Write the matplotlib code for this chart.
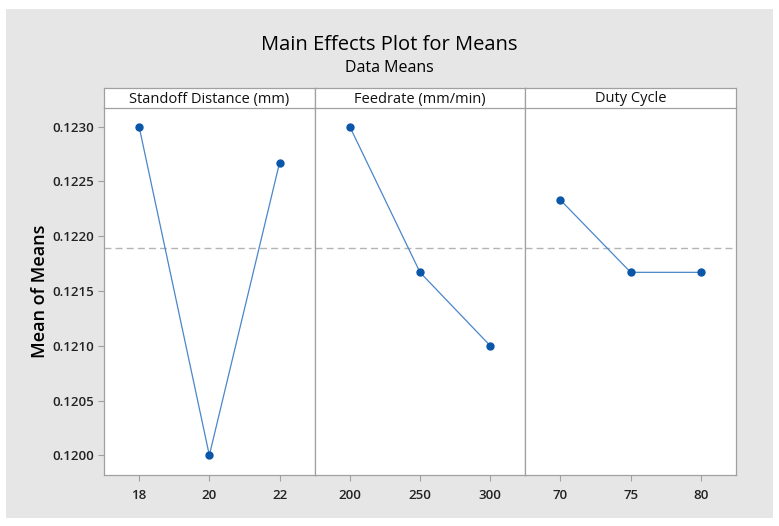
import matplotlib.pyplot as plt
from matplotlib.patches import Rectangle

plt.rcParams["font.family"] = ["Open Sans", "DejaVu Sans"]

# factor names and levels
factors = ["Standoff Distance (mm)", "Feedrate (mm/min)", "Duty Cycle"]
standoff_levels = ["18", "20", "22"]
feedrate_levels = ["200", "250", "300"]
duty_levels = ["70", "75", "80"]

# mean of means at each level
standoff_means = [0.12300, 0.12000, 0.12267]
feedrate_means = [0.12300, 0.12167, 0.12100]
duty_means = [0.12233, 0.12167, 0.12167]

grand_mean = sum(standoff_means + feedrate_means + duty_means) / 9

W, H = 779, 526
fig = plt.figure(figsize=(W / 100, H / 100), dpi=100)
fig.patch.set_facecolor("white")
fig.patches.append(Rectangle((6 / W, 1 - 518 / H), 767 / W, 509 / H,
                             transform=fig.transFigure, facecolor="#e6e6e6",
                             edgecolor="none", zorder=-10))

fig.text(0.5, 1 - 45 / H, "Main Effects Plot for Means", ha="center", va="center",
         fontsize=14.5, fontweight="medium")
fig.text(0.5, 1 - 68 / H, "Data Means", ha="center", va="center", fontsize=11.5,
         fontweight="medium")

left, right = 104, 736
top, bottom = 108, 475
strip_top = 88
pw = (right - left) / 3

levels = [standoff_levels, feedrate_levels, duty_levels]
means = [standoff_means, feedrate_means, duty_means]
edge = "#a0a0a0"
tick_font = dict(fontsize=9.5, fontweight="semibold", color="#222222")

for i in range(3):
    x0 = left + i * pw
    ax = fig.add_axes([x0 / W, 1 - bottom / H, pw / W, (bottom - top) / H])
    ax.set_facecolor("white")
    xs = list(range(len(levels[i])))
    ax.axhline(grand_mean, color="#b4b4b4", linestyle=(0, (5, 3)), linewidth=1, zorder=1)
    ax.plot(xs, means[i], color="#4a86c8", linewidth=0.9, zorder=2)
    ax.plot(xs, means[i], "o", color="#0a56a8", markersize=5, zorder=3)
    ax.set_xlim(-0.5, 2.5)
    ax.set_ylim(0.11982, 0.12317)
    ax.set_xticks(xs)
    ax.set_xticklabels(levels[i], **tick_font)
    for s in ax.spines.values():
        s.set_color(edge)
        s.set_linewidth(0.9)
    ax.spines["top"].set_visible(False)
    ax.tick_params(axis="x", length=4, color=edge, pad=6)
    if i == 0:
        ax.set_yticks([0.1200, 0.1205, 0.1210, 0.1215, 0.1220, 0.1225, 0.1230])
        ax.set_yticklabels([f"{v:.4f}" for v in ax.get_yticks()], **tick_font)
        ax.tick_params(axis="y", length=4, color=edge, pad=3)
    else:
        ax.set_yticks([])

    strip = fig.add_axes([x0 / W, 1 - top / H, pw / W, (top - strip_top) / H])
    strip.set_facecolor("white")
    strip.set_xticks([])
    strip.set_yticks([])
    for s in strip.spines.values():
        s.set_color(edge)
        s.set_linewidth(0.9)
    strip.text(0.5, 0.45, factors[i], ha="center", va="center", fontsize=10.5,
               fontweight="medium", color="#111111", transform=strip.transAxes)

fig.text(40 / W, 1 - ((top + bottom) / 2) / H, "Mean of Means", rotation=90,
         ha="center", va="center", fontsize=13, fontweight="semibold")

fig.savefig("out.png", dpi=100)
